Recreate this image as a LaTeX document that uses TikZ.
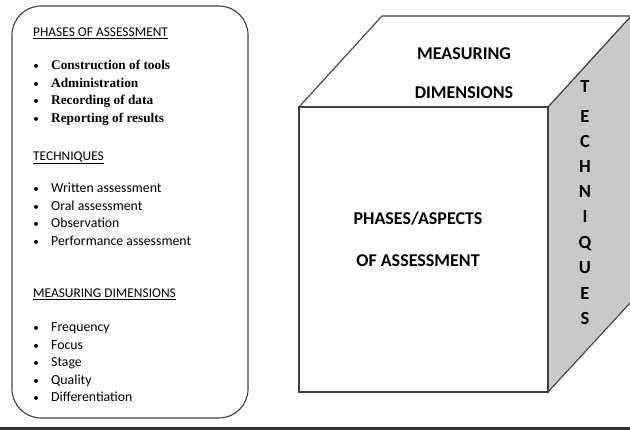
\documentclass[tikz,border=0pt]{standalone}
\usepackage{fontspec}
\setmainfont{Liberation Serif}
\newfontfamily\calib{Carlito}
\begin{document}
\begin{tikzpicture}[x=1pt,y=-1pt,
  edge/.style={draw=black!75, line width=1.1pt},
  head/.style={anchor=base west, inner sep=0pt, font=\calib\fontsize{13.4}{15}\selectfont},
  bul/.style={anchor=base, inner sep=0pt, font=\calib\fontsize{11}{13}\selectfont},
  seritem/.style={anchor=base west, inner sep=0pt, font=\bfseries\fontsize{13.3}{15}\selectfont},
  sansitem/.style={anchor=base west, inner sep=0pt, font=\calib\fontsize{13.8}{16}\selectfont},
  cubetext/.style={anchor=base, inner sep=0pt, font=\calib\bfseries\fontsize{18}{21}\selectfont},
  sideletter/.style={anchor=base, inner sep=0pt, font=\calib\bfseries\fontsize{18.5}{21}\selectfont}]
\useasboundingbox (0,0) rectangle (630,430);
\fill[white] (0,0) rectangle (630,430);

% legend panel
\draw[edge, rounded corners=29pt] (12,6) rectangle (248,418);

\node[head] (h1) at (33,37) {\underline{PHASES OF ASSESSMENT}};
\foreach \t [count=\i] in {Construction of tools, Administration, Recording of data, Reporting of results} {
  \pgfmathsetmacro\yy{70+17.5*(\i-1)}
  \node[bul] (pb\i) at (36,\yy) {•};
  \node[seritem] (p\i) at (51,\yy) {\t};
}

\node[head] (h2) at (33,160.5) {\underline{TECHNIQUES}};
\foreach \t [count=\i] in {Written assessment, Oral assessment, Observation, Performance assessment} {
  \pgfmathsetmacro\yy{193+17.5*(\i-1)}
  \node[bul] (tb\i) at (36,\yy) {•};
  \node[sansitem] (t\i) at (51,\yy) {\t};
}

\node[head] (h3) at (33,298) {\underline{MEASURING DIMENSIONS}};
\foreach \t [count=\i] in {Frequency, Focus, Stage, Quality, Differentiation} {
  \pgfmathsetmacro\yy{332+17.5*(\i-1)}
  \node[bul] (mb\i) at (36,\yy) {•};
  \node[sansitem] (m\i) at (51,\yy) {\t};
}

% cube: side face, top face, front face
\draw[edge, fill=black!21] (548,107) -- (631,16) -- (631,302) -- (548,392) -- cycle;
\draw[edge, fill=white] (299,107) -- (382,16) -- (631,16) -- (548,107) -- cycle;
\draw[edge, fill=white] (299,107) rectangle (548,392);

\node[cubetext] (md1) at (464,60) {MEASURING};
\node[cubetext] (md2) at (464,99) {DIMENSIONS};
\node[cubetext] (pa1) at (418,225) {PHASES/ASPECTS};
\node[cubetext] (pa2) at (418,267) {OF ASSESSMENT};

\foreach \l/\yy [count=\i] in {T/93, E/123, C/148, H/173, N/198, I/223, Q/249, U/274, E/300, S/325} {
  \node[sideletter] (s\i) at (585,\yy) {\l};
}

% rule along the bottom
\draw[line width=3pt, black!80] (0,428.5) -- (630,428.5);
\end{tikzpicture}
\end{document}
